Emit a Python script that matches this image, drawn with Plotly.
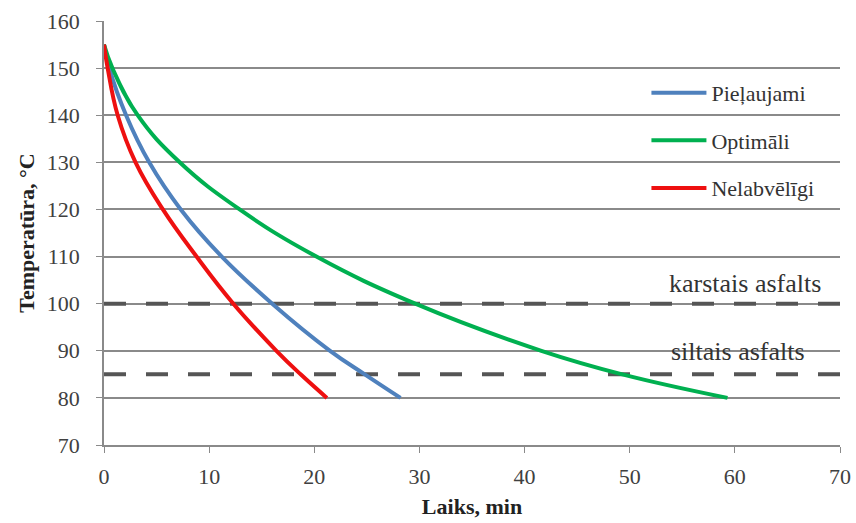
import plotly.graph_objects as go

# Data
temps = [155, 150, 140, 130, 120, 110, 100, 90, 85, 80]
t_pielaujami = [0, 0.5, 2.1, 4.3, 7.3, 11.2, 16.0, 21.5, 24.8, 28.2]
t_optimali = [0, 0.8, 3.2, 7.2, 12.9, 20.2, 29.6, 41.6, 49.3, 59.3]
t_nelabvel = [0, 0.35, 1.3, 3.0, 5.6, 8.8, 12.3, 16.4, 18.7, 21.2]

series_names = ["Pieļaujami", "Optimāli", "Nelabvēlīgi"]
series_t = [t_pielaujami, t_optimali, t_nelabvel]
series_colors = ["#4F81BD", "#00B050", "#EE1010"]

limit_levels = [100, 85]
limit_labels = ["karstais asfalts", "siltais asfalts"]
x_range = [0, 70]

serif = "Liberation Serif, Times New Roman, serif"

fig = go.Figure()

for lvl in limit_levels:
    fig.add_trace(go.Scatter(
        x=x_range, y=[lvl, lvl], mode="lines",
        line=dict(color="#555555", width=4, dash="22px,20px"),
        showlegend=False, hoverinfo="skip"))

for name, t, c in zip(series_names, series_t, series_colors):
    fig.add_trace(go.Scatter(
        x=t, y=temps, mode="lines", name=name, legendgroup=name,
        line=dict(color=c, width=4, shape="spline", smoothing=1.2)))

label_y = [104.3, 89.8]
label_x = [61.0, 60.3]
for lx, ly, txt in zip(label_x, label_y, limit_labels):
    fig.add_annotation(x=lx, y=ly, text=txt, showarrow=False,
                       font=dict(family=serif, size=26, color="#333333"),
                       xanchor="center", yanchor="middle")

fig.update_layout(
    width=856, height=523,
    margin=dict(l=104, r=16, t=21, b=78),
    paper_bgcolor="white", plot_bgcolor="white",
    font=dict(family=serif, size=22, color="#404040"),
    legend=dict(x=0.737, y=0.88, xanchor="left", yanchor="top",
                bgcolor="rgba(0,0,0,0)", itemwidth=55,
                tracegroupgap=16,
                font=dict(family=serif, size=22, color="#333333")),
    showlegend=True,
)

fig.update_xaxes(range=x_range, dtick=10, tick0=0, automargin=False,
                 showgrid=False, zeroline=False,
                 showline=True, linecolor="#8a8a8a", linewidth=1.5,
                 ticks="outside", ticklen=6, tickcolor="#8a8a8a",
                 ticklabelstandoff=5,
                 tickfont=dict(family=serif, size=22, color="#404040"),
                 title=dict(text="<b>Laiks, min</b>", standoff=10,
                            font=dict(family=serif, size=22, color="#222222")))
fig.update_yaxes(range=[70, 160], dtick=10, tick0=70, automargin=False,
                 showgrid=True, gridcolor="#8a8a8a", gridwidth=1.5,
                 zeroline=False,
                 showline=True, linecolor="#8a8a8a", linewidth=1.5,
                 ticks="outside", ticklen=6, tickcolor="#8a8a8a",
                 ticklabelstandoff=12,
                 tickfont=dict(family=serif, size=22, color="#404040"),
                 title=dict(text="<b>Temperatūra, °C</b>", standoff=6,
                            font=dict(family=serif, size=22, color="#222222")))

fig.write_html("out.html")
